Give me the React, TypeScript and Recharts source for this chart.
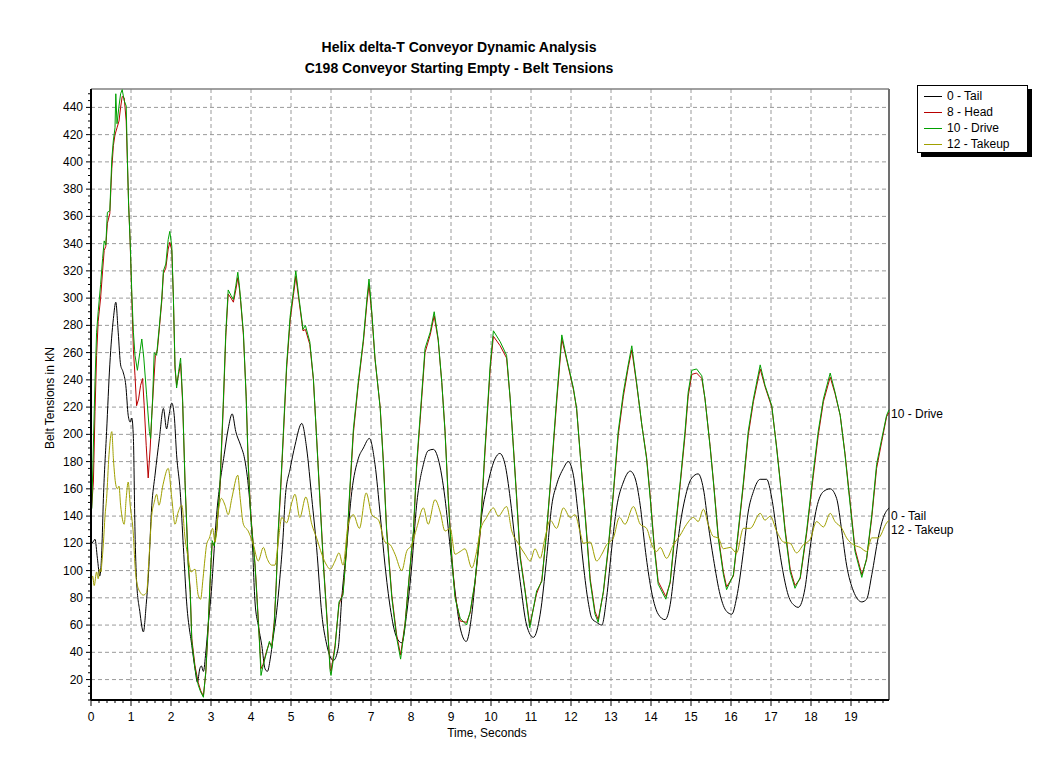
import React from "react";
import { LineChart, Line, XAxis, YAxis, CartesianGrid, Legend, ReferenceLine } from "recharts";

// time (s) / belt tension (kN) readings for each pulley
const tailT = [0, 0.05, 0.1, 0.16, 0.22, 0.27, 0.31, 0.39, 0.47, 0.56, 0.62, 0.68, 0.74, 0.8, 0.87, 0.93, 0.98, 1.02, 1.06, 1.1, 1.14, 1.22, 1.31, 1.38, 1.43, 1.52, 1.6, 1.71, 1.81, 1.89, 1.95, 2.02, 2.08, 2.14, 2.23, 2.31, 2.39, 2.52, 2.6, 2.66, 2.72, 2.76, 2.81, 2.87, 2.93, 3.02, 3.06, 3.14, 3.22, 3.33, 3.43, 3.53, 3.62, 3.74, 3.84, 3.93, 4.02, 4.1, 4.18, 4.27, 4.35, 4.41, 4.48, 4.55, 4.63, 4.72, 4.8, 4.86, 4.98, 5.1, 5.27, 5.39, 5.52, 5.64, 5.77, 5.89, 6.06, 6.18, 6.27, 6.39, 6.52, 6.68, 6.81, 6.96, 7.1, 7.23, 7.35, 7.48, 7.64, 7.77, 7.89, 8.02, 8.14, 8.31, 8.43, 8.56, 8.68, 8.85, 8.98, 9.1, 9.23, 9.38, 9.52, 9.64, 9.77, 9.93, 10.1, 10.22, 10.35, 10.48, 10.6, 10.73, 10.89, 11.06, 11.23, 11.39, 11.52, 11.64, 11.81, 11.93, 12.06, 12.18, 12.31, 12.43, 12.52, 12.64, 12.77, 12.89, 13.02, 13.14, 13.31, 13.48, 13.6, 13.73, 13.85, 13.98, 14.18, 14.35, 14.48, 14.6, 14.73, 14.85, 15.02, 15.18, 15.31, 15.43, 15.56, 15.73, 15.89, 16.02, 16.14, 16.31, 16.43, 16.56, 16.73, 16.89, 17.02, 17.14, 17.27, 17.43, 17.6, 17.68, 17.85, 17.98, 18.14, 18.31, 18.48, 18.64, 18.77, 18.89, 19.06, 19.27, 19.39, 19.52, 19.68, 19.81, 19.95];
const tailV = [120, 121, 123, 109, 96, 115, 153, 202, 251, 285, 297, 275, 251, 246, 236, 214, 209, 212, 197, 129, 92, 70, 55, 75, 94, 148, 170, 197, 219, 204, 214, 223, 214, 185, 158, 117, 77, 45, 28, 18, 28, 30, 26, 40, 60, 89, 107, 141, 163, 185, 204, 215, 202, 192, 182, 163, 129, 77, 60, 45, 28, 26, 35, 50, 67, 94, 124, 155, 175, 192, 208, 190, 153, 117, 68, 46, 34, 43, 80, 117, 158, 182, 190, 197, 178, 141, 104, 73, 51, 47, 68, 104, 148, 178, 188, 189, 182, 153, 117, 85, 58, 48, 68, 104, 141, 165, 182, 186, 178, 153, 122, 92, 60, 51, 68, 109, 148, 163, 175, 180, 170, 141, 104, 77, 65, 62, 60, 80, 117, 146, 165, 173, 168, 148, 117, 90, 68, 64, 75, 104, 134, 153, 168, 171, 160, 134, 109, 82, 70, 68, 80, 114, 143, 158, 167, 167, 153, 129, 104, 82, 74, 73, 87, 117, 146, 158, 160, 153, 129, 104, 85, 77, 79, 97, 124, 139, 146];

const headT = [0, 0.06, 0.1, 0.14, 0.18, 0.24, 0.29, 0.33, 0.37, 0.41, 0.47, 0.52, 0.56, 0.6, 0.65, 0.7, 0.74, 0.78, 0.83, 0.88, 0.91, 0.94, 0.98, 1.02, 1.06, 1.1, 1.14, 1.19, 1.24, 1.29, 1.33, 1.38, 1.43, 1.48, 1.52, 1.56, 1.61, 1.66, 1.71, 1.77, 1.81, 1.87, 1.93, 1.97, 2.02, 2.06, 2.1, 2.14, 2.19, 2.24, 2.29, 2.35, 2.43, 2.48, 2.52, 2.6, 2.68, 2.74, 2.81, 2.87, 2.93, 2.99, 3.03, 3.08, 3.14, 3.22, 3.31, 3.37, 3.43, 3.5, 3.56, 3.62, 3.67, 3.71, 3.74, 3.81, 3.88, 3.93, 3.99, 4.04, 4.1, 4.14, 4.21, 4.25, 4.3, 4.39, 4.46, 4.52, 4.58, 4.63, 4.68, 4.74, 4.81, 4.89, 4.98, 5.06, 5.12, 5.2, 5.3, 5.36, 5.47, 5.56, 5.64, 5.72, 5.81, 5.89, 5.98, 6.0, 6.1, 6.2, 6.3, 6.39, 6.48, 6.56, 6.68, 6.81, 6.9, 6.95, 7.02, 7.1, 7.23, 7.31, 7.39, 7.52, 7.64, 7.74, 7.85, 7.98, 8.06, 8.14, 8.23, 8.35, 8.48, 8.58, 8.68, 8.77, 8.85, 8.93, 9.02, 9.1, 9.23, 9.39, 9.48, 9.6, 9.73, 9.85, 9.98, 10.06, 10.23, 10.39, 10.48, 10.56, 10.64, 10.73, 10.85, 10.97, 11.14, 11.27, 11.39, 11.52, 11.64, 11.77, 11.89, 12.06, 12.14, 12.23, 12.35, 12.48, 12.6, 12.68, 12.81, 12.93, 13.06, 13.18, 13.31, 13.43, 13.52, 13.64, 13.77, 13.89, 13.98, 14.08, 14.18, 14.37, 14.48, 14.6, 14.73, 14.85, 14.93, 15.02, 15.14, 15.27, 15.35, 15.48, 15.56, 15.68, 15.81, 15.89, 16.06, 16.18, 16.31, 16.43, 16.56, 16.73, 16.85, 17.02, 17.14, 17.23, 17.35, 17.48, 17.6, 17.73, 17.89, 18.06, 18.18, 18.31, 18.48, 18.6, 18.73, 18.85, 18.98, 19.1, 19.27, 19.39, 19.52, 19.64, 19.77, 19.89, 19.95];
const headV = [140, 165, 217, 258, 283, 300, 320, 335, 338, 355, 362, 395, 412, 420, 425, 430, 440, 448, 447, 430, 400, 370, 340, 300, 262, 243, 221, 226, 236, 241, 221, 192, 168, 190, 214, 234, 258, 262, 278, 298, 318, 322, 336, 341, 335, 300, 248, 236, 244, 252, 224, 166, 106, 86, 50, 30, 18, 12, 8, 25, 58, 99, 120, 119, 128, 158, 222, 272, 303, 300, 297, 306, 315, 307, 298, 273, 228, 180, 143, 125, 105, 86, 50, 28, 31, 41, 47, 45, 62, 90, 127, 158, 199, 248, 284, 302, 316, 298, 276, 277, 266, 240, 198, 155, 106, 70, 28, 26, 45, 75, 84, 115, 162, 201, 236, 268, 297, 310, 288, 255, 220, 180, 131, 82, 53, 38, 61, 103, 127, 175, 211, 260, 273, 287, 269, 238, 203, 155, 111, 82, 63, 62, 69, 91, 127, 187, 248, 272, 265, 256, 226, 191, 155, 111, 86, 60, 83, 93, 128, 176, 223, 270, 255, 233, 219, 186, 143, 94, 70, 64, 84, 115, 156, 199, 228, 249, 262, 237, 207, 183, 155, 119, 92, 81, 91, 127, 163, 199, 228, 244, 245, 241, 226, 191, 166, 126, 99, 88, 96, 127, 163, 199, 224, 248, 235, 220, 191, 166, 131, 101, 89, 94, 127, 170, 199, 224, 242, 230, 214, 186, 150, 116, 97, 108, 139, 175, 195, 213, 216];

const driveT = [0, 0.02, 0.1, 0.14, 0.18, 0.24, 0.29, 0.33, 0.37, 0.41, 0.47, 0.52, 0.56, 0.6, 0.62, 0.65, 0.7, 0.74, 0.78, 0.83, 0.88, 0.91, 0.94, 0.98, 1.02, 1.06, 1.1, 1.16, 1.22, 1.27, 1.32, 1.39, 1.46, 1.49, 1.54, 1.58, 1.64, 1.71, 1.77, 1.81, 1.87, 1.93, 1.97, 2.02, 2.06, 2.1, 2.14, 2.19, 2.24, 2.29, 2.35, 2.43, 2.48, 2.52, 2.6, 2.68, 2.74, 2.81, 2.87, 2.93, 2.99, 3.03, 3.08, 3.14, 3.22, 3.31, 3.37, 3.43, 3.5, 3.56, 3.62, 3.67, 3.71, 3.74, 3.81, 3.88, 3.93, 3.99, 4.04, 4.1, 4.14, 4.21, 4.25, 4.3, 4.39, 4.46, 4.52, 4.58, 4.63, 4.68, 4.74, 4.81, 4.89, 4.98, 5.06, 5.12, 5.2, 5.3, 5.36, 5.47, 5.56, 5.64, 5.72, 5.81, 5.89, 5.98, 6.0, 6.1, 6.2, 6.3, 6.39, 6.48, 6.56, 6.68, 6.81, 6.9, 6.95, 7.02, 7.1, 7.23, 7.31, 7.39, 7.52, 7.64, 7.74, 7.85, 7.98, 8.06, 8.14, 8.23, 8.35, 8.48, 8.58, 8.68, 8.77, 8.85, 8.93, 9.02, 9.1, 9.23, 9.39, 9.48, 9.6, 9.73, 9.85, 9.98, 10.06, 10.23, 10.39, 10.48, 10.56, 10.64, 10.73, 10.85, 10.97, 11.14, 11.27, 11.39, 11.52, 11.64, 11.77, 11.89, 12.06, 12.14, 12.23, 12.35, 12.48, 12.6, 12.68, 12.81, 12.93, 13.06, 13.18, 13.31, 13.43, 13.52, 13.64, 13.77, 13.89, 13.98, 14.08, 14.18, 14.37, 14.48, 14.6, 14.73, 14.85, 14.93, 15.02, 15.14, 15.27, 15.35, 15.48, 15.56, 15.68, 15.81, 15.89, 16.06, 16.18, 16.31, 16.43, 16.56, 16.73, 16.85, 17.02, 17.14, 17.23, 17.35, 17.48, 17.6, 17.73, 17.89, 18.06, 18.18, 18.31, 18.48, 18.6, 18.73, 18.85, 18.98, 19.1, 19.27, 19.39, 19.52, 19.64, 19.77, 19.89, 19.95];
const driveV = [143, 146, 239, 275, 290, 310, 329, 342, 339, 363, 364, 402, 416, 425, 450, 428, 441, 450, 453, 445, 441, 402, 368, 341, 304, 275, 258, 247, 260, 270, 256, 229, 202, 197, 226, 260, 258, 280, 300, 320, 325, 343, 349, 338, 300, 251, 234, 246, 256, 226, 165, 104, 84, 48, 28, 16, 11, 7, 26, 60, 101, 122, 118, 129, 161, 226, 275, 306, 302, 299, 309, 319, 309, 299, 275, 226, 178, 141, 124, 104, 84, 48, 23, 30, 40, 48, 43, 60, 89, 129, 161, 202, 251, 287, 305, 320, 300, 277, 280, 268, 241, 197, 153, 104, 68, 26, 23, 43, 77, 82, 117, 165, 204, 238, 270, 300, 314, 290, 256, 219, 178, 129, 80, 51, 35, 60, 104, 129, 178, 214, 263, 275, 290, 270, 238, 202, 153, 109, 80, 65, 60, 70, 92, 129, 190, 251, 276, 268, 258, 226, 190, 153, 109, 85, 58, 85, 92, 129, 178, 226, 273, 256, 234, 219, 185, 141, 92, 68, 62, 85, 117, 158, 202, 231, 251, 265, 238, 207, 182, 153, 117, 90, 79, 92, 129, 165, 202, 231, 247, 248, 243, 226, 190, 165, 124, 97, 86, 97, 129, 165, 202, 226, 251, 236, 221, 190, 165, 129, 99, 87, 95, 129, 173, 202, 226, 245, 231, 214, 185, 148, 114, 95, 109, 141, 178, 197, 214, 218];

const takeupT = [0, 0.04, 0.08, 0.14, 0.18, 0.22, 0.25, 0.27, 0.31, 0.35, 0.39, 0.45, 0.52, 0.56, 0.62, 0.66, 0.7, 0.74, 0.83, 0.88, 0.93, 0.98, 1.06, 1.1, 1.14, 1.23, 1.31, 1.39, 1.45, 1.52, 1.58, 1.64, 1.7, 1.8, 1.93, 2.02, 2.1, 2.18, 2.27, 2.35, 2.43, 2.5, 2.6, 2.68, 2.74, 2.8, 2.85, 2.89, 2.96, 3.04, 3.1, 3.18, 3.26, 3.35, 3.43, 3.52, 3.67, 3.73, 3.81, 3.93, 4.06, 4.18, 4.31, 4.4, 4.52, 4.6, 4.68, 4.77, 4.89, 5.02, 5.1, 5.22, 5.37, 5.52, 5.64, 5.77, 5.89, 5.98, 6.1, 6.2, 6.3, 6.43, 6.56, 6.71, 6.88, 7.02, 7.19, 7.35, 7.48, 7.6, 7.77, 7.89, 8.02, 8.14, 8.31, 8.43, 8.6, 8.73, 8.85, 8.98, 9.1, 9.23, 9.35, 9.52, 9.64, 9.73, 9.89, 10.06, 10.18, 10.39, 10.52, 10.68, 10.85, 10.98, 11.1, 11.23, 11.35, 11.48, 11.64, 11.81, 11.98, 12.1, 12.23, 12.31, 12.48, 12.64, 12.77, 12.89, 13.06, 13.21, 13.35, 13.56, 13.73, 13.89, 14.02, 14.14, 14.23, 14.39, 14.56, 14.73, 14.89, 15.06, 15.18, 15.31, 15.43, 15.56, 15.68, 15.81, 15.98, 16.14, 16.31, 16.48, 16.73, 16.85, 16.98, 17.14, 17.31, 17.48, 17.64, 17.81, 17.98, 18.14, 18.31, 18.48, 18.6, 18.77, 18.89, 19.06, 19.23, 19.39, 19.52, 19.68, 19.89, 19.95];
const takeupV = [90, 96, 89, 99, 94, 101, 99, 105, 120, 140, 153, 185, 202, 182, 163, 160, 162, 148, 134, 153, 165, 148, 126, 104, 92, 84, 82, 84, 109, 141, 150, 156, 148, 163, 175, 153, 134, 143, 148, 124, 109, 99, 101, 82, 79, 94, 109, 119, 124, 131, 121, 143, 153, 148, 141, 153, 170, 153, 134, 129, 119, 107, 117, 109, 104, 104, 121, 139, 135, 150, 156, 139, 154, 134, 124, 112, 104, 101, 107, 113, 104, 134, 141, 131, 157, 141, 137, 121, 119, 112, 100, 114, 119, 131, 146, 134, 152, 143, 129, 131, 112, 114, 116, 102, 114, 129, 139, 146, 140, 147, 129, 120, 112, 107, 116, 109, 124, 137, 131, 146, 139, 141, 128, 120, 121, 107, 112, 119, 124, 139, 134, 147, 134, 131, 119, 114, 117, 109, 119, 126, 134, 139, 136, 145, 134, 125, 124, 116, 117, 113, 131, 131, 142, 137, 140, 129, 121, 120, 113, 119, 123, 136, 132, 142, 136, 131, 124, 119, 117, 114, 124, 124, 135, 137];

const xMajor = [0, 1, 2, 3, 4, 5, 6, 7, 8, 9, 10, 11, 12, 13, 14, 15, 16, 17, 18, 19];
const yMajor = [20, 40, 60, 80, 100, 120, 140, 160, 180, 200, 220, 240, 260, 280, 300, 320, 340, 360, 380, 400, 420, 440];

const X_MAX = 19.95;
const Y_MIN = 5;
const Y_MAX = 453.5;

const xTicks = Array.from({ length: 100 }, (_, i) => Math.round(i * 20) / 100);
const yTicks = Array.from({ length: 90 }, (_, i) => 5 + i * 5);

const toPoints = (t: number[], v: number[]) => t.map((x, i) => ({ t: x, v: v[i] }));

const series = [
  { name: "0 - Tail", color: "#000000", data: toPoints(tailT, tailV), curve: "monotone", labelDy: 12, endLabel: true },
  { name: "8 - Head", color: "#b80000", data: toPoints(headT, headV), curve: "linear", labelDy: 10, endLabel: false },
  { name: "10 - Drive", color: "#00a000", data: toPoints(driveT, driveV), curve: "linear", labelDy: 8, endLabel: true },
  { name: "12 - Takeup", color: "#a0a000", data: toPoints(takeupT, takeupV), curve: "monotone", labelDy: 14, endLabel: true },
];

const FONT = "'Liberation Sans', Arial, sans-serif";

const XTick = (props: any) => {
  const { x, y, payload } = props;
  const v = payload.value;
  const major = Math.abs(v - Math.round(v)) < 1e-6;
  return (
    <g>
      <line x1={x} x2={x} y1={y} y2={y + (major ? 6 : 3)} stroke="#000" />
      {major && (
        <text x={x} y={y + 21} textAnchor="middle" fontSize={12} fontFamily={FONT} fill="#000">
          {Math.round(v)}
        </text>
      )}
    </g>
  );
};

const YTick = (props: any) => {
  const { x, y, payload } = props;
  const v = payload.value;
  const major = v % 20 === 0;
  return (
    <g>
      <line x1={x} x2={x - (major ? 5 : 3)} y1={y} y2={y} stroke="#000" />
      {major && (
        <text x={x - 8} y={y + 4} textAnchor="end" fontSize={12} fontFamily={FONT} fill="#000">
          {v}
        </text>
      )}
    </g>
  );
};

const LegendBox = () => (
  <div style={{ position: "relative", width: 115, height: 72, fontFamily: FONT }}>
    <div style={{ position: "absolute", left: 4, top: 4, width: 111, height: 68, background: "#000" }} />
    <div
      style={{
        position: "absolute",
        left: 0,
        top: 0,
        width: 109,
        height: 66,
        background: "#fff",
        border: "1px solid #000",
      }}
    >
      {series.map((s, i) => (
        <div key={s.name} style={{ position: "absolute", left: 6, top: 2 + i * 16, height: 16, display: "flex", alignItems: "center" }}>
          <div style={{ width: 18, height: 1, background: s.color }} />
          <span style={{ marginLeft: 5, fontSize: 12, color: "#000", whiteSpace: "nowrap" }}>{s.name}</span>
        </div>
      ))}
    </div>
  </div>
);

const endLabel = (name: string, last: number, dy: number) => (p: any) => {
  if (p.index !== last) return null;
  return (
    <text key={name} x={p.cx + 2} y={p.cy + dy} fontSize={12} fontFamily={FONT} fill="#000">
      {name}
    </text>
  );
};

export default function App() {
  return (
    <div style={{ position: "relative", width: 1053, height: 759, background: "#fff", fontFamily: FONT }}>
      <style>{"body{margin:0}"}</style>
      <div
        style={{
          position: "absolute",
          left: 0,
          top: 37,
          width: 918,
          textAlign: "center",
          fontSize: 14,
          fontWeight: "bold",
          lineHeight: "21px",
          color: "#000",
        }}
      >
        <div>Helix delta-T Conveyor Dynamic Analysis</div>
        <div>C198 Conveyor Starting Empty - Belt Tensions</div>
      </div>
      <div
        style={{
          position: "absolute",
          left: 50,
          top: 398,
          transform: "translate(-50%, -50%) rotate(-90deg)",
          whiteSpace: "nowrap",
          fontSize: 12,
          color: "#000",
        }}
      >
        Belt Tensions in kN
      </div>
      <div
        style={{
          position: "absolute",
          left: 487,
          top: 733,
          transform: "translate(-50%, -50%)",
          whiteSpace: "nowrap",
          fontSize: 12,
          color: "#000",
        }}
      >
        Time, Seconds
      </div>
      <LineChart width={1053} height={759} margin={{ top: 89, right: 164, bottom: 0, left: 0 }} style={{ position: "absolute", left: 0, top: 0 }}>
        <CartesianGrid stroke="#9a9a9a" strokeDasharray="4 3" horizontalValues={yMajor} verticalValues={xMajor} />
        <XAxis
          type="number"
          dataKey="t"
          domain={[0, X_MAX]}
          ticks={xTicks}
          interval={0}
          height={59}
          tickSize={0}
          tickMargin={0}
          tickLine={false}
          tick={<XTick />}
          axisLine={{ stroke: "#000", strokeWidth: 2 }}
          allowDuplicatedCategory={false}
        />
        <YAxis
          type="number"
          domain={[Y_MIN, Y_MAX]}
          ticks={yTicks}
          interval={0}
          width={91}
          tickSize={0}
          tickMargin={0}
          tickLine={false}
          tick={<YTick />}
          axisLine={{ stroke: "#000", strokeWidth: 2 }}
        />
        <ReferenceLine y={Y_MAX} stroke="#808080" strokeWidth={1.5} />
        <ReferenceLine x={X_MAX} stroke="#707070" strokeWidth={2} />
        <Legend
          layout="horizontal"
          verticalAlign="middle"
          align="center"
          wrapperStyle={{ left: 917, top: 85, width: "auto" }}
          content={() => <LegendBox />}
        />
        {series.map((s) => (
          <Line
            key={s.name}
            data={s.data}
            dataKey="v"
            name={s.name}
            type={s.curve as any}
            stroke={s.color}
            strokeWidth={1}
            dot={s.endLabel ? endLabel(s.name, s.data.length - 1, s.labelDy) : false}
            activeDot={false}
            isAnimationActive={false}
          />
        ))}
      </LineChart>
    </div>
  );
}
